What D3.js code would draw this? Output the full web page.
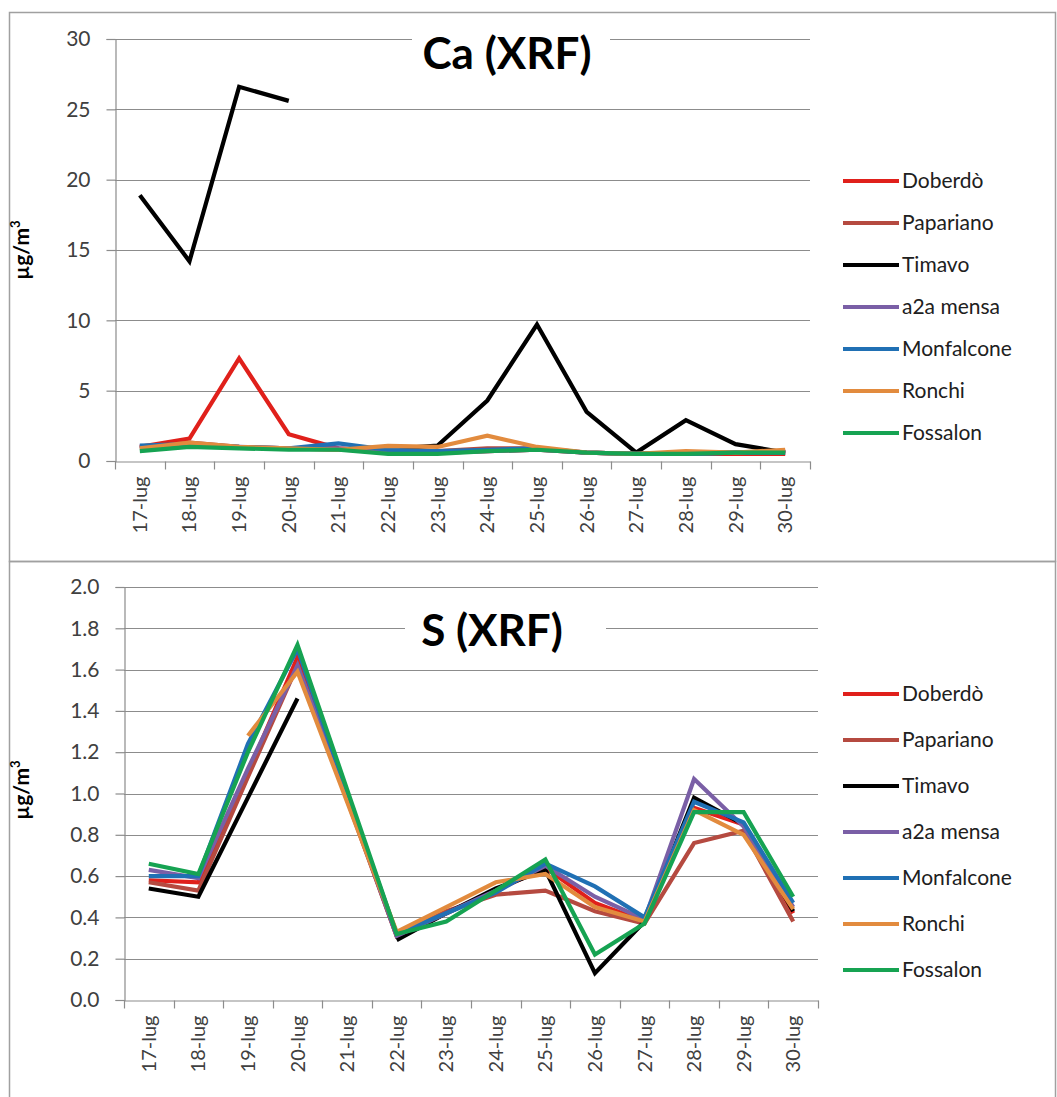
<!DOCTYPE html>
<html><head><meta charset="utf-8">
<script src="https://cdn.jsdelivr.net/npm/d3@7"></script>
<style>
body{margin:0;background:#fff;}
text{font-family:Lato,"Open Sans",sans-serif;}
</style></head>
<body>
<svg id="c" width="1057" height="1097"></svg>
<script>
const categories = ["17-lug","18-lug","19-lug","20-lug","21-lug","22-lug","23-lug","24-lug","25-lug","26-lug","27-lug","28-lug","29-lug","30-lug"];
const seriesNames = ["Doberdò","Papariano","Timavo","a2a mensa","Monfalcone","Ronchi","Fossalon"];
const seriesColors = ["#e0201b","#b54a40","#000000","#7a5fa6","#2070b4","#e28b3e","#16a352"];

// Ca (XRF) µg/m3
const caDoberdo    = [1.0, 1.6, 7.3, 1.9, 0.9, 0.7, 0.6, 0.7, 0.8, 0.6, 0.5, 0.5, 0.5, 0.5];
const caPapariano  = [0.9, 1.3, 1.0, 0.9, 0.8, 0.7, 0.7, 0.9, 0.9, 0.6, 0.5, 0.6, 0.6, 0.7];
const caTimavo     = [18.9, 14.2, 26.6, 25.6, null, 0.85, 1.1, 4.3, 9.7, 3.5, 0.6, 2.9, 1.2, 0.6];
const caA2a        = [1.0, 1.1, 1.0, 0.9, 0.9, 0.6, 0.6, 0.7, 0.8, 0.6, 0.5, 0.5, 0.6, 0.6];
const caMonfalcone = [1.1, 1.2, 1.0, 0.9, 1.25, 0.8, 0.7, 0.8, 0.9, 0.6, 0.5, 0.5, 0.6, 0.6];
const caRonchi     = [0.9, 1.3, 1.0, 0.9, 0.8, 1.07, 1.0, 1.8, 1.0, 0.6, 0.5, 0.7, 0.6, 0.8];
const caFossalon   = [0.7, 1.0, 0.9, 0.8, 0.8, 0.5, 0.5, 0.7, 0.8, 0.6, 0.5, 0.5, 0.6, 0.6];
const caTicks = [0,5,10,15,20,25,30];

// S (XRF) µg/m3
const sDoberdo    = [0.58, 0.57, 1.10, 1.66, 0.98, 0.31, 0.42, 0.53, 0.64, 0.47, 0.38, 0.93, 0.85, 0.42];
const sPapariano  = [0.57, 0.53, 1.08, 1.62, 0.97, 0.31, 0.43, 0.51, 0.53, 0.43, 0.37, 0.76, 0.82, 0.38];
const sTimavo     = [0.54, 0.50, 0.98, 1.46, null, 0.29, 0.42, 0.54, 0.63, 0.13, 0.38, 0.98, 0.85, 0.43];
const sA2a        = [0.63, 0.59, 1.12, 1.62, 0.98, 0.31, 0.42, 0.53, 0.65, 0.50, 0.39, 1.07, 0.84, 0.45];
const sMonfalcone = [0.60, 0.60, 1.24, 1.70, 1.00, 0.32, 0.42, 0.52, 0.66, 0.55, 0.40, 0.96, 0.86, 0.47];
const sRonchi     = [null, null, 1.28, 1.59, 0.96, 0.33, 0.45, 0.57, 0.61, 0.45, 0.38, 0.92, 0.80, 0.44];
const sFossalon   = [0.66, 0.61, 1.20, 1.72, 1.02, 0.32, 0.38, 0.53, 0.68, 0.22, 0.37, 0.91, 0.91, 0.50];
const sTicks = [0,0.2,0.4,0.6,0.8,1.0,1.2,1.4,1.6,1.8,2.0];

const caSeries = [caDoberdo, caPapariano, caTimavo, caA2a, caMonfalcone, caRonchi, caFossalon];
const sSeries  = [sDoberdo, sPapariano, sTimavo, sA2a, sMonfalcone, sRonchi, sFossalon];

const svg = d3.select("#c");
svg.append("rect").attr("width",1057).attr("height",1097).attr("fill","#fff");

function drawChart(cfg){
  const g = svg.append("g");
  g.append("rect").attr("x",cfg.box[0]+0.5).attr("y",cfg.box[1]+0.5)
    .attr("width",cfg.box[2]).attr("height",cfg.box[3])
    .attr("fill","none").attr("stroke","#a0a0a0").attr("stroke-width",1.5);

  const x = d3.scaleBand().domain(categories).range([cfg.x0, cfg.x1]);
  const y = d3.scaleLinear().domain(cfg.domain).range([cfg.yb, cfg.yt]);

  g.append("g").selectAll("line").data(cfg.ticks.filter(t=>t!==cfg.domain[0])).join("line")
    .attr("x1",cfg.x0).attr("x2",cfg.x1)
    .attr("y1",d=>Math.round(y(d))+0.5).attr("y2",d=>Math.round(y(d))+0.5)
    .attr("stroke","#8c8c8c").attr("stroke-width",1.2);

  const ya = d3.axisLeft(y).tickValues(cfg.ticks).tickSize(9).tickPadding(16).tickFormat(cfg.fmt);
  const yg = g.append("g").attr("transform",`translate(${cfg.x0+0.5},0)`).call(ya);
  yg.select(".domain").attr("stroke","#8c8c8c").attr("stroke-width",1.2);
  yg.selectAll(".tick line").attr("stroke","#8c8c8c").attr("stroke-width",1.2);
  yg.selectAll(".tick text").attr("font-size",21).attr("fill","#404040").attr("font-family","Lato,sans-serif");

  const xa = d3.axisBottom(x).tickSize(0).tickFormat(d=>d);
  const xg = g.append("g").attr("transform",`translate(0,${Math.round(cfg.yb)+0.5})`).call(xa);
  xg.select(".domain").attr("stroke","#8c8c8c").attr("stroke-width",1.2);
  xg.selectAll(".tick text").attr("font-size",20).attr("fill","#404040").attr("font-family","Lato,sans-serif")
    .attr("transform","rotate(-90)").attr("text-anchor","end").attr("dx","-15").attr("dy","0.35em").attr("x",0).attr("y",0);
  const bounds = categories.map((c)=>x(c)).concat([cfg.x1]);
  xg.append("g").selectAll("line").data(bounds).join("line")
    .attr("x1",d=>Math.round(d)+0.5).attr("x2",d=>Math.round(d)+0.5).attr("y1",0).attr("y2",8)
    .attr("stroke","#8c8c8c").attr("stroke-width",1.2);

  const tbox = g.append("rect").attr("fill","#fff");
  const tt = g.append("text").attr("x",cfg.titleX).attr("y",cfg.titleY)
    .attr("text-anchor","middle").attr("font-size",44).attr("font-weight","bold").attr("fill","#000")
    .attr("font-family","Lato,sans-serif").text(cfg.title);
  const bb = tt.node().getBBox();
  tbox.attr("x",cfg.titleGap[0]).attr("width",cfg.titleGap[1]-cfg.titleGap[0])
    .attr("y",bb.y-4).attr("height",bb.height+8);

  const yl = g.append("text").attr("transform",`translate(${cfg.ylabX},${cfg.ylabY}) rotate(-90)`)
    .attr("text-anchor","middle").attr("font-size",21).attr("font-weight","bold").attr("fill","#000")
    .attr("font-family","Lato,sans-serif");
  yl.append("tspan").text("µg/m");
  yl.append("tspan").attr("font-size",13).attr("dy",-9).text("3");

  const line = d3.line().defined(d=>d!=null)
    .x((d,i)=>x(categories[i])+x.bandwidth()/2).y(d=>y(d));
  cfg.series.forEach((s,k)=>{
    g.append("path").datum(s).attr("d",line).attr("fill","none")
      .attr("stroke",seriesColors[k]).attr("stroke-width",4.2)
      .attr("stroke-linejoin","miter").attr("stroke-linecap","butt");
  });

  const lg = g.append("g");
  seriesNames.forEach((n,k)=>{
    const yy = cfg.legY + k*cfg.legStep;
    lg.append("line").attr("x1",843).attr("x2",899).attr("y1",yy).attr("y2",yy)
      .attr("stroke",seriesColors[k]).attr("stroke-width",4.2);
    lg.append("text").attr("x",902).attr("y",yy).attr("dy","0.35em")
      .attr("font-size",21).attr("fill","#202020").attr("font-family","Lato,sans-serif").text(n);
  });
}

drawChart({box:[9,12,1046,549], x0:115, x1:810, yb:461, yt:39, domain:[0,30], ticks:caTicks,
  fmt:d3.format("d"), series:caSeries, title:"Ca (XRF)", titleX:507, titleY:69, titleGap:[412,610],
  ylabX:29, ylabY:250, legY:181, legStep:42});
drawChart({box:[9,561,1046,560], x0:124, x1:818, yb:1000, yt:587, domain:[0,2], ticks:sTicks,
  fmt:d3.format(".1f"), series:sSeries, title:"S (XRF)", titleX:492, titleY:646, titleGap:[405,606],
  ylabX:29, ylabY:790, legY:694, legStep:46});
</script>
</body></html>
